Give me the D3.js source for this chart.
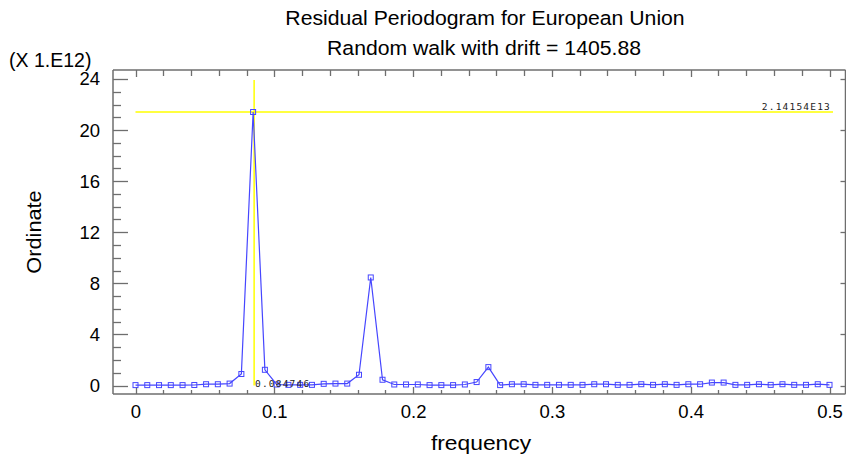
<!DOCTYPE html>
<html><head><meta charset="utf-8">
<script src="https://cdn.jsdelivr.net/npm/d3@7/dist/d3.min.js"></script>
<style>body{margin:0;background:#fff}svg{display:block}text{font-family:"Liberation Sans",Arial,sans-serif}</style>
</head><body><svg id="c" width="846" height="458"></svg>
<script>
const title = "Residual Periodogram for European Union";
const subtitle = "Random walk with drift = 1405.88";
const yScaleNote = "(X 1.E12)";
const xLabel = "frequency";
const yLabel = "Ordinate";
const nObs = 118;
// periodogram ordinates (units of 1E12), k = 0..59, frequency = k/118
const ordinates = [0.03,0.03,0.03,0.03,0.03,0.04,0.1,0.1,0.15,0.9,
  21.4154,1.23,0.08,0.05,0.05,0.05,0.13,0.15,0.15,0.84,
  8.46,0.45,0.08,0.08,0.08,0.03,0.03,0.03,0.08,0.27,
  1.44,0.03,0.1,0.1,0.05,0.05,0.05,0.05,0.05,0.1,
  0.1,0.05,0.05,0.1,0.05,0.1,0.05,0.1,0.1,0.23,
  0.23,0.05,0.05,0.1,0.05,0.1,0.05,0.05,0.1,0.05];
const yTicks = [0,4,8,12,16,20,24];
const xTicks = [0,0.1,0.2,0.3,0.4,0.5];
const peakFreq = 0.084746;
const peakValue = 21.4154;
const peakLabelY = "2.14154E13";
const peakLabelX = "0.084746";

const svg = d3.select("#c");
const L = 113, R = 845.5, T = 70, B = 394;
const x = d3.scaleLinear().domain([0,0.5]).range([135.5,829.5]);
const y = d3.scaleLinear().domain([0,24]).range([385.5,79]);
const data = ordinates.map((v,k)=>({f:k/nObs,v}));
const gray = "#6e6e6e";

function stxt(px,py,size,sx,str,anchor,rot){
  return svg.append("text")
    .attr("transform",`translate(${px},${py})`+(rot?` rotate(${rot})`:"")+` scale(${sx},1)`)
    .attr("text-anchor",anchor||"middle").attr("font-size",size).attr("fill","#000").text(str);
}
// titles
stxt(485,25,19.5,1.087,title);
stxt(484,55,19.5,1.087,subtitle);
stxt(9,67,19.5,1.0,yScaleNote,"start");
stxt(41,232,20,1.087,yLabel,"middle",-90);
stxt(481,450,21,1.087,xLabel);

// frame
const fr = svg.append("g").attr("stroke",gray).attr("stroke-width",1.5).attr("fill","none");
fr.append("line").attr("x1",L).attr("x2",L).attr("y1",T).attr("y2",B);
fr.append("line").attr("x1",L).attr("x2",R).attr("y1",T).attr("y2",T);
fr.append("line").attr("x1",L).attr("x2",R).attr("y1",B).attr("y2",B);
fr.append("line").attr("x1",R).attr("x2",R).attr("y1",T).attr("y2",B);

// y ticks
const yMinor = d3.range(0,25,1);
const tk = svg.append("g").attr("stroke",gray).attr("stroke-width",1.3);
yMinor.forEach(v=>{
  const major = v%4===0;
  const yy = Math.round(y(v))+0.5;
  tk.append("line").attr("x1",L).attr("x2",L+(major?15:8)).attr("y1",yy).attr("y2",yy);
  if(major) tk.append("line").attr("x1",R).attr("x2",R-5).attr("y1",yy).attr("y2",yy);
});
// x ticks
const xMinor = d3.range(0,26).map(i=>i*0.02);
xMinor.forEach((v,i)=>{
  const major = i%5===0;
  const xx = Math.round(x(v))+0.5;
  tk.append("line").attr("x1",xx).attr("x2",xx).attr("y1",B).attr("y2",B-(major?7:4));
  tk.append("line").attr("x1",xx).attr("x2",xx).attr("y1",T).attr("y2",T+(major?7:6));
});
// tick labels via axes
const yAxis = svg.append("g").attr("transform",`translate(${L},0)`)
  .call(d3.axisLeft(y).tickValues(yTicks).tickSize(0).tickPadding(13).tickFormat(d3.format("d")));
yAxis.select(".domain").remove();
yAxis.selectAll("text").attr("font-size",18.5).attr("fill","#000").style("font-family","Liberation Sans, Arial");
const xAxis = svg.append("g").attr("transform",`translate(0,${B})`)
  .call(d3.axisBottom(x).tickValues(xTicks).tickSize(0).tickPadding(11).tickFormat(d=>d===0?"0":d3.format(".1f")(d)));
xAxis.select(".domain").remove();
xAxis.selectAll("text").attr("font-size",18.5).attr("fill","#000").style("font-family","Liberation Sans, Arial");

// yellow crosshair
const ye = "#ffff00";
svg.append("line").attr("x1",x(0)).attr("x2",833).attr("y1",y(peakValue)).attr("y2",y(peakValue)).attr("stroke",ye).attr("stroke-width",1.5);
svg.append("line").attr("x1",x(peakFreq)+1).attr("x2",x(peakFreq)+1).attr("y1",y(24)+1).attr("y2",y(0)).attr("stroke",ye).attr("stroke-width",1.5);

// series
const blue = "#4646ff";
svg.append("path").datum(data).attr("fill","none").attr("stroke",blue).attr("stroke-width",1.2)
  .attr("d",d3.line().x(d=>x(d.f)).y(d=>y(d.v)));
svg.append("g").selectAll("rect").data(data).join("rect")
  .attr("x",d=>x(d.f)-2.5).attr("y",d=>y(d.v)-2.5).attr("width",5).attr("height",5)
  .attr("fill","none").attr("stroke",blue).attr("stroke-width",1);

// cursor labels
svg.append("text").attr("x",831).attr("y",110).attr("text-anchor","end").attr("font-size",9.5)
  .style("font-family","DejaVu Sans Mono, monospace").attr("letter-spacing",1.2).attr("fill","#222").text(peakLabelY);
svg.append("text").attr("x",255).attr("y",387).attr("font-size",9.5)
  .style("font-family","DejaVu Sans Mono, monospace").attr("letter-spacing",1.2).attr("fill","#222").text(peakLabelX);
</script></body></html>
